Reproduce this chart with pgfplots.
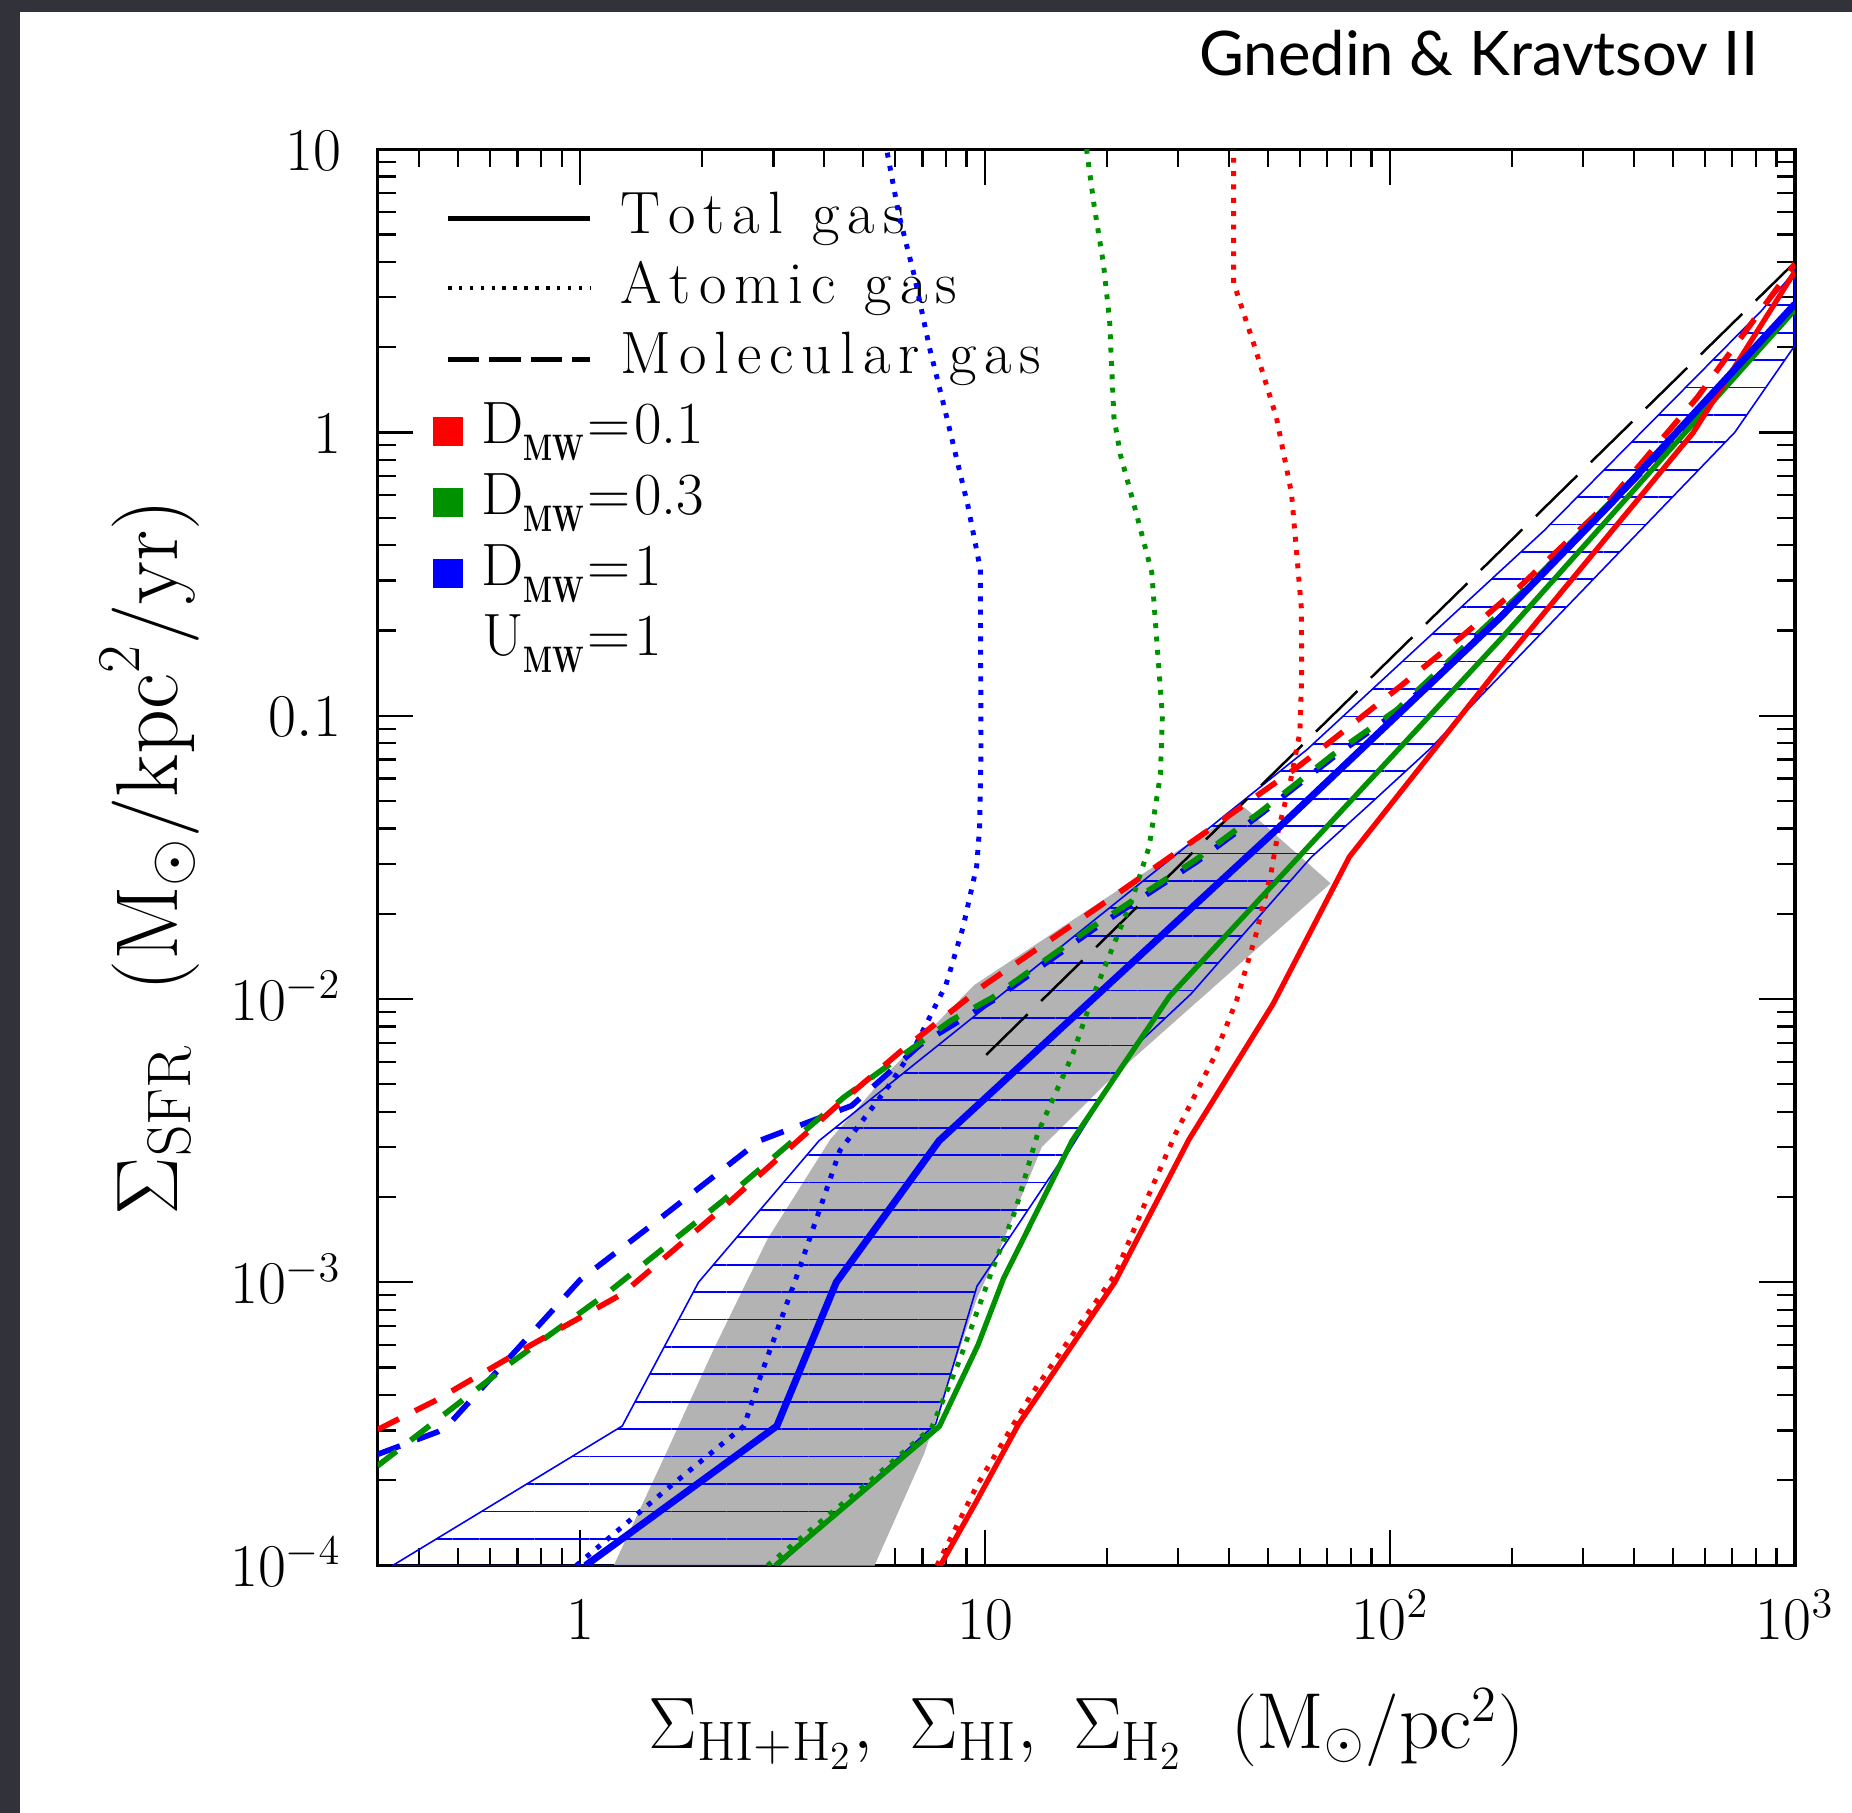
\documentclass[border=0pt]{standalone}
\usepackage{fontspec}
\usepackage{graphicx}
\usepackage{pgfplots}
\pgfplotsset{compat=1.18}
\usetikzlibrary{patterns.meta}
\newfontfamily\titlefont{Lato}
\definecolor{myred}{RGB}{255,0,0}
\definecolor{mygreen}{RGB}{0,145,0}
\definecolor{myblue}{RGB}{0,0,255}
\definecolor{shade}{RGB}{179,179,179}
\definecolor{framecol}{RGB}{50,50,58}
\newcommand{\sub}[1]{\raisebox{-4.8pt}{\fontsize{10.5}{11}\selectfont\bfseries\scalebox{0.72}[1]{#1}}}
% letter-spaced word
\def\ls#1{\lsA#1\relax}
\def\lsA#1{\ifx#1\relax\else#1\kern2.25pt\expandafter\lsA\fi}
\newcommand{\wsp}{\hspace{0.36em}}
\begin{document}
\begin{tikzpicture}[x=1cm,y=1cm]
\useasboundingbox (0,0) rectangle (18.52,18.13);
\fill[framecol] (0,0) rectangle (18.52,18.13);
\fill[white] (0.2,0) rectangle (18.52,18.01);
% title
\node[anchor=base east, inner sep=0pt, font=\titlefont\fontsize{17.5}{20}\selectfont] at (17.59,17.37) {Gnedin \& Kravtsov II};
% legend
\begin{scope}[font=\fontsize{17}{20}\selectfont]
\draw[line width=1.4pt] (4.48,15.944) -- (5.90,15.944);
\draw[line width=1pt, dash pattern=on 1pt off 2.1pt] (4.48,15.248) -- (5.90,15.248);
\draw[line width=1.4pt, dash pattern=on 8.9pt off 2.9pt] (4.48,14.534) -- (5.90,14.534);
\node[anchor=base west, inner sep=0pt] at (6.20,15.794) {\ls{Total}\wsp\ls{gas}};
\node[anchor=base west, inner sep=0pt] at (6.20,15.094) {\ls{Atomic}\wsp\ls{gas}};
\node[anchor=base west, inner sep=0pt] at (6.20,14.39) {\ls{Molecular}\wsp\ls{gas}};
\fill[myred] (4.325,13.666) rectangle (4.629,13.96);
\fill[mygreen] (4.325,12.955) rectangle (4.629,13.25);
\fill[myblue] (4.325,12.25) rectangle (4.629,12.54);
\node[anchor=base west, inner sep=0pt] at (4.807,13.694) {D\sub{MW}\kern1pt{=}\kern1pt0.1};
\node[anchor=base west, inner sep=0pt] at (4.807,12.987) {D\sub{MW}\kern1pt{=}\kern1pt0.3};
\node[anchor=base west, inner sep=0pt] at (4.807,12.273) {D\sub{MW}\kern1pt{=}\kern1pt1};
\node[anchor=base west, inner sep=0pt] at (4.816,11.57) {U\sub{MW}\kern1pt{=}\kern1pt1};
\end{scope}
\begin{axis}[
  at={(3.777cm,2.474cm)}, anchor=south west,
  scale only axis, width=14.173cm, height=14.165cm,
  xmode=log, ymode=log,
  xmin=0.316228, xmax=1000, ymin=1e-4, ymax=10,
  axis line style={line width=0.9pt},
  tick style={line width=0.65pt, black},
  major tick length=10.2pt, minor tick length=5.1pt,
  tick align=inside, tick pos=both,
  xtick={1,10,100,1000}, xticklabels={$1$,$10$,$10^2$,$10^3$},
  minor xtick={0.4,0.5,0.6,0.7,0.8,0.9,2,3,4,5,6,7,8,9,20,30,40,50,60,70,80,90,200,300,400,500,600,700,800,900},
  ytick={1e-4,1e-3,1e-2,0.1,1,10}, yticklabels={$10^{-4}$,$10^{-3}$,$10^{-2}$,$0.1$,$1$,$10$},
  minor ytick={2e-4,3e-4,4e-4,5e-4,6e-4,7e-4,8e-4,9e-4,2e-3,3e-3,4e-3,5e-3,6e-3,7e-3,8e-3,9e-3,0.02,0.03,0.04,0.05,0.06,0.07,0.08,0.09,0.2,0.3,0.4,0.5,0.6,0.7,0.8,0.9,2,3,4,5,6,7,8,9},
  tick label style={font=\fontsize{18.5}{21}\selectfont},
  xticklabel style={anchor=base, inner sep=0pt, yshift=-21pt},
  yticklabel style={anchor=base east, inner sep=0pt, xshift=-10.2pt, yshift=-6pt},
  xlabel={$\Sigma_{\rm HI+H_2},\ \Sigma_{\rm HI},\ \Sigma_{\rm H_2}\ \ (\mathrm{M}_\odot/\mathrm{pc}^2)$},
  ylabel={$\Sigma_{\rm SFR}\ \ (\mathrm{M}_\odot/\mathrm{kpc}^2/\mathrm{yr})$},
  xlabel style={at={(axis description cs:0.5,-0.1288)}, anchor=base, font=\fontsize{22.6}{26}\selectfont},
  ylabel style={at={(axis description cs:-0.1416,0.5)}, anchor=base, font=\fontsize{25}{29}\selectfont},
  every axis plot/.append style={line join=round},
]
% gray observational band
\addplot[fill=shade, draw=none] coordinates {
(1.21,1e-4) (1.61,2.4e-4) (2.14,5.83e-4) (2.90,1.42e-3) (4.15,3.2e-3) (5.9,5.7e-3) (9.4,0.0112) (43.6,0.0476) (71.3,0.0256) (20.9,5.4e-3) (13.8,3.0e-3) (10.9,1.32e-3) (9.55,8.8e-4) (7.06,2.47e-4) (5.33,1e-4)
} -- cycle;
% blue hatched band
\addplot[draw=myblue, line width=0.45pt, pattern={Lines[angle=0,distance=7.8pt,line width=0.5pt]}, pattern color=myblue] coordinates {
(0.344,1e-4) (1.27,3.11e-4) (1.96,1e-3) (3.89,3.16e-3) (62.4,0.076) (240,0.45) (825,2.68) (1000,3.72) (1000,2.03) (710,1.0) (125,0.076) (89.5,0.049) (63.8,0.0316) (32.2,0.0104) (23.2,6.7e-3) (16.1,2.9e-3) (15.4,2.69e-3) (9.55,9.7e-4) (7.55,3.16e-4) (3.09,1e-4)
} -- cycle;
% black reference line
\addplot[black, line width=0.7pt, dash pattern=on 16.5pt off 5.4pt] coordinates {(10.06,6.35e-3) (1000,3.99)};
% atomic gas (dotted)
\addplot[myred, line width=1.4pt, dash pattern=on 1.4pt off 2.4pt] coordinates {
(7.6,1e-4) (9.55,1.92e-4) (12.9,3.94e-4) (16.4,6.5e-4) (20.9,1.06e-3) (24.9,1.92e-3) (29.6,3.37e-3) (36.7,6.2e-3) (41.8,9.9e-3) (46.6,0.0168) (50.8,0.0277) (53.1,0.040) (56.7,0.0583) (59.9,0.0875) (60.5,0.139) (60.4,0.239) (57.1,0.61) (52.4,1.13) (46.4,1.99) (41.1,3.37) (41.1,10)};
\addplot[mygreen, line width=1.4pt, dash pattern=on 1.4pt off 2.4pt] coordinates {
(2.9,1e-4) (5.33,2.05e-4) (7.38,3.07e-4) (8.6,5.2e-4) (10.4,1.1e-3) (11.9,1.81e-3) (13.5,3.37e-3) (16.4,6.3e-3) (18.3,9.9e-3) (23.2,0.023) (25.4,0.0344) (27.1,0.062) (27.4,0.1) (26.5,0.19) (25.8,0.32) (23.6,0.521) (21.6,0.83) (20.8,1.13) (20.3,2.47) (19.6,3.94) (18.6,6.28) (17.8,10)};
\addplot[myblue, line width=1.4pt, dash pattern=on 1.4pt off 2.4pt] coordinates {
(0.977,1e-4) (1.68,1.92e-4) (2.54,3.11e-4) (2.80,4.74e-4) (3.41,1.03e-3) (4.38,2.92e-3) (5.82,5.0e-3) (6.71,6.8e-3) (8.0,0.0112) (8.82,0.0179) (9.53,0.0294) (9.69,0.0402) (9.77,0.076) (9.73,0.33) (9.06,0.554) (7.95,1.21) (7.29,1.99) (6.68,3.59) (6.12,5.9) (5.71,10)};
% molecular gas (dashed)
\addplot[myblue, line width=1.6pt, dash pattern=on 6.8pt off 5.1pt] coordinates {
(0.316,2.47e-4) (0.446,2.97e-4) (0.466,3.07e-4) (1.0,1.02e-3) (1.44,1.52e-3) (2.77,3.16e-3) (4.68,4.2e-3) (6.92,6.9e-3) (10.6,0.0100) (18.6,0.0177) (33.3,0.0305) (48,0.045) (73,0.072) (105,0.104) (216,0.275) (574,1.15) (1000,2.75)};
\addplot[mygreen, line width=1.6pt, dash pattern=on 6.8pt off 5.1pt] coordinates {
(0.316,2.25e-4) (0.675,5.2e-4) (1.16,9.1e-4) (2.23,1.92e-3) (4.48,4.5e-3) (8.24,8.4e-3) (10.4,0.0101) (18.3,0.0179) (32.9,0.0308) (47.6,0.0455) (72,0.0726) (104,0.105) (216,0.28) (574,1.17) (1000,2.71)};
\addplot[myred, line width=1.6pt, dash pattern=on 6.8pt off 5.1pt] coordinates {
(0.316,3.02e-4) (0.437,3.81e-4) (0.752,5.98e-4) (1.27,9.1e-4) (1.44,1.06e-3) (2.23,1.81e-3) (4.29,4.18e-3) (6.16,6.5e-3) (9.96,0.0112) (19.1,0.0212) (35.2,0.039) (59.2,0.066) (72,0.082) (106,0.127) (154,0.196) (211,0.289) (341,0.555) (574,1.33) (1000,3.94)};
% total gas (solid)
\addplot[mygreen, line width=1.5pt] coordinates {
(3.03,1e-4) (7.71,3.1e-4) (9.6,6.0e-4) (11.1,1.03e-3) (16.4,3.16e-3) (28.5,0.0102) (186.7,0.185) (1000,2.71)};
\addplot[myred, line width=1.5pt] coordinates {
(7.75,1e-4) (9.55,1.7e-4) (12.1,3.16e-4) (20.9,1e-3) (31.9,3.2e-3) (51.4,9.6e-3) (79.4,0.0318) (186.6,0.149) (561,1.0) (1000,3.70)};
\addplot[myblue, line width=2pt] coordinates {
(1.03,1e-4) (3.06,3.11e-4) (4.29,1e-3) (7.7,3.16e-3) (54.3,0.0415) (187,0.222) (356,0.573) (1000,2.84)};
\end{axis}
\end{tikzpicture}
\end{document}
